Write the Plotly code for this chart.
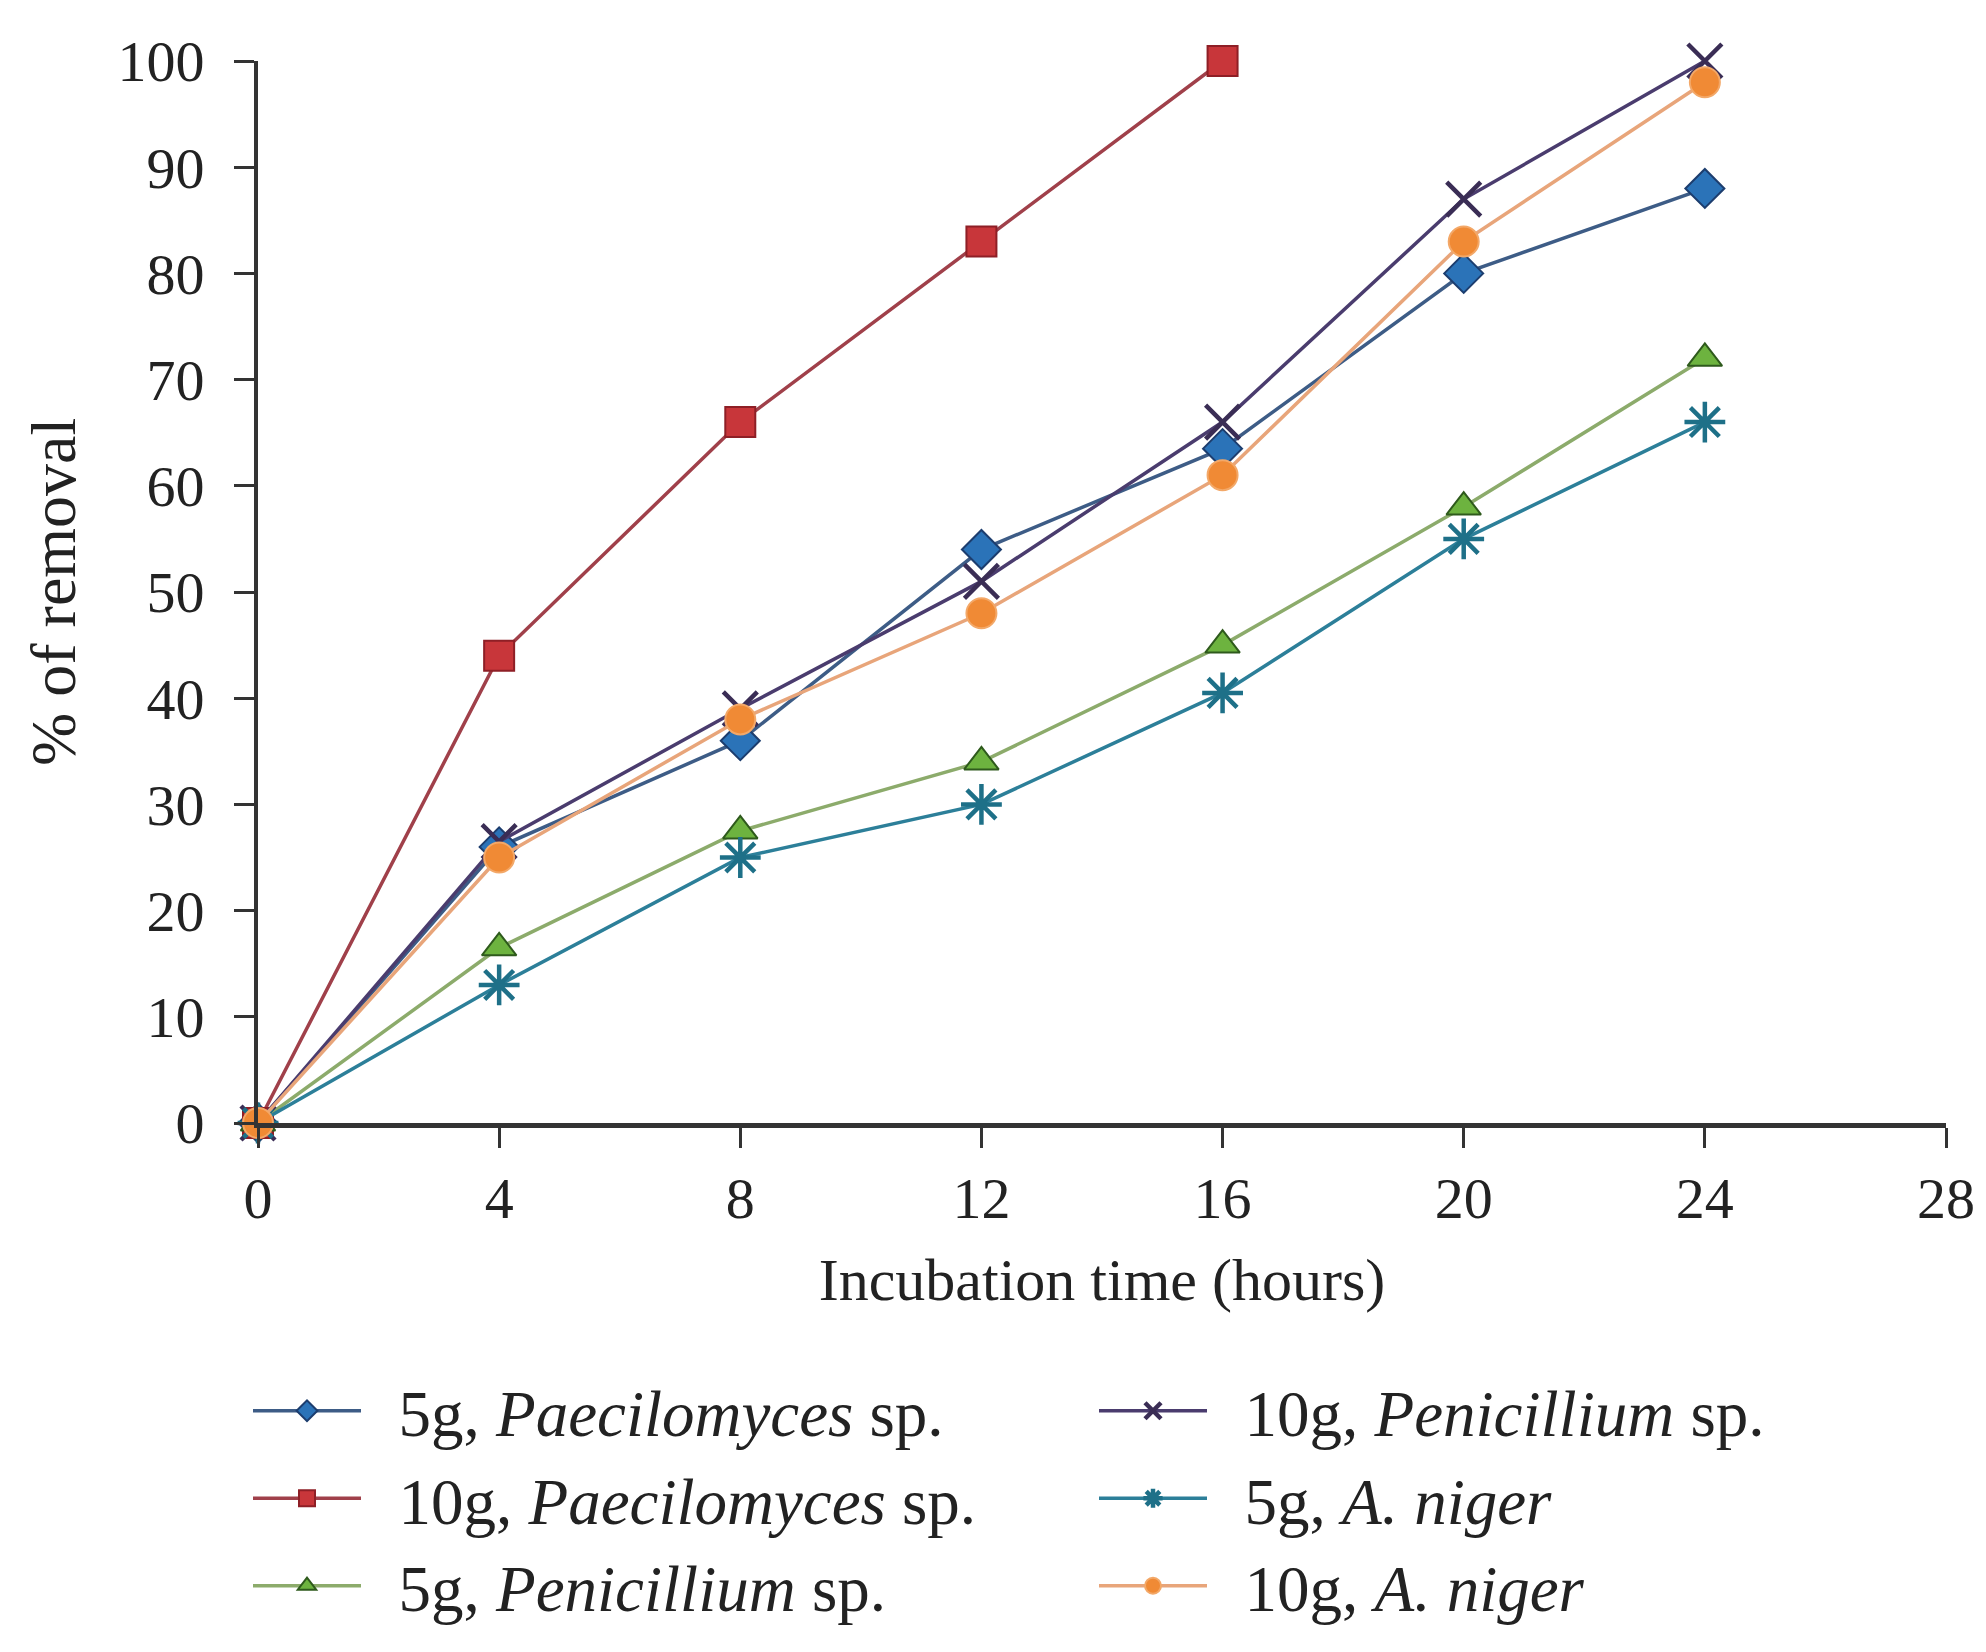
import plotly.graph_objects as go

# Incubation time (hours) and % of removal
hours = [0, 4, 8, 12, 16, 20, 24]
hours_short = [0, 4, 8, 12, 16]

paec_5g = [0, 26, 36, 54, 63.5, 80, 88]
paec_10g = [0, 44, 66, 83, 100]
pen_5g = [0, 16.5, 27.5, 34, 45, 58, 72]
pen_10g = [0, 26.5, 39, 51, 66, 87, 100]
niger_5g = [0, 13, 25, 30, 40.5, 55, 66]
niger_10g = [0, 25, 38, 48, 61, 83, 98]

x_ticks = [0, 4, 8, 12, 16, 20, 24, 28]
y_ticks = [0, 10, 20, 30, 40, 50, 60, 70, 80, 90, 100]

FONT = "Liberation Serif"
W, H = 1986, 1652
GAP = "\u00a0\u00a0"  # space between legend line and label

series = [
    # name, x, y, line colour, marker symbol, fill, outline, legend
    ("5g, <i>Paecilomyces</i> sp.", hours, paec_5g, "#3d5c86", "diamond", "#2b73b8", "#1c3d6e", "legend"),
    ("10g, <i>Paecilomyces</i> sp.", hours_short, paec_10g, "#a0404a", "square", "#c8363a", "#8e1f26", "legend"),
    ("5g, <i>Penicillium</i> sp.", hours, pen_5g, "#8cab6b", "triangle-up", "#6db33f", "#2e5a1c", "legend"),
    ("10g, <i>Penicillium</i> sp.", hours, pen_10g, "#4a3c6e", "x-thin-open", "#3a2d55", "#3a2d55", "legend2"),
    ("5g, <i>A. niger</i>", hours, niger_5g, "#2c7f99", "asterisk-open", "#1e7088", "#1e7088", "legend2"),
    ("10g, <i>A. niger</i>", hours, niger_10g, "#e8a57a", "circle", "#f08a35", "#f3a868", "legend2"),
]

fig = go.Figure()
for i, (name, xs, ys, lc, sym, fill, edge, leg) in enumerate(series):
    open_sym = sym.endswith("open")
    fig.add_trace(
        go.Scatter(
            x=xs,
            y=ys,
            name=GAP + name,
            mode="lines+markers",
            line=dict(color=lc, width=3.5),
            marker=dict(
                symbol=sym,
                size=34 if open_sym else 30,
                color=fill,
                line=dict(color=edge, width=4.5 if open_sym else 2),
            ),
            legend=leg,
            legendgroup=f"g{i}",
            cliponaxis=False,
        )
    )

legend_style = dict(
    xref="container", yref="container",
    y=1 - 1354 / H,
    xanchor="left", yanchor="top",
    itemwidth=108,
    tracegroupgap=0,
    font=dict(family=FONT, size=65, color="#222222"),
    bgcolor="rgba(0,0,0,0)",
)

fig.update_layout(
    width=W,
    height=H,
    paper_bgcolor="white",
    plot_bgcolor="white",
    margin=dict(l=250, r=48, t=53, b=537, autoexpand=False),
    font=dict(family=FONT, size=56, color="#222222"),
    showlegend=True,
    legend=dict(x=240 / W, **legend_style),
    legend2=dict(x=1086 / W, **legend_style),
    annotations=[
        dict(
            text="% of removal",
            xref="paper", yref="paper",
            x=-205 / 1688, y=0.5,
            xanchor="center", yanchor="middle",
            textangle=-90,
            showarrow=False,
            font=dict(family=FONT, size=64, color="#222222"),
        )
    ],
)

fig.update_xaxes(
    range=[0, 28],
    tickvals=x_ticks,
    automargin=False,
    tickangle=0,
    showgrid=False,
    zeroline=False,
    showline=True,
    linecolor="#333333",
    linewidth=5,
    ticks="outside",
    ticklen=20,
    tickwidth=3,
    tickcolor="#333333",
    ticklabelstandoff=0,
    tickfont=dict(family=FONT, size=58, color="#222222"),
    title=dict(text="Incubation time (hours)", standoff=30,
               font=dict(family=FONT, size=60, color="#222222")),
)
fig.update_yaxes(
    range=[0, 100],
    tickvals=y_ticks,
    automargin=False,
    showgrid=False,
    zeroline=False,
    showline=True,
    linecolor="#333333",
    linewidth=4,
    ticks="outside",
    ticklen=20,
    tickwidth=3,
    tickcolor="#333333",
    ticklabelstandoff=18,
    tickfont=dict(family=FONT, size=58, color="#222222"),
)

fig.write_html("out.html")
